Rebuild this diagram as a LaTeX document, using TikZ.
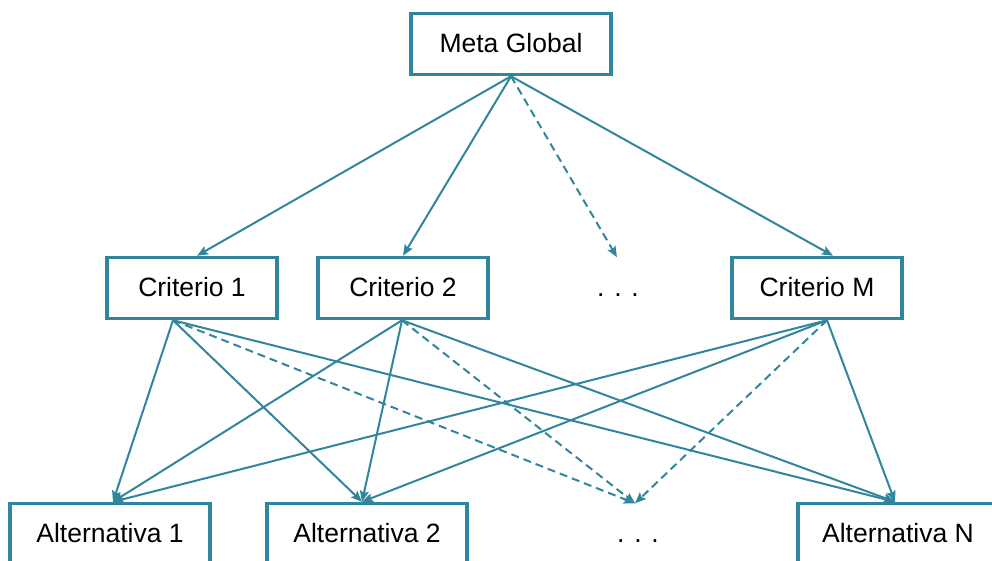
\documentclass[tikz,border=0pt]{standalone}
\usepackage{fontspec}
\setmainfont{Liberation Sans}
\usepackage{xcolor}
\usetikzlibrary{arrows.meta}

\definecolor{linkteal}{RGB}{49,133,156}

\tikzset{
  levelbox/.style={draw=linkteal, line width=3.5pt, fill=white,
    minimum height=61pt, text height=19pt, text depth=3pt,
    font=\fontsize{26.5}{31}\selectfont},
  dotsbox/.style={minimum height=61pt, text height=19pt, text depth=3pt,
    font=\fontsize{26.5}{31}\selectfont},
  link/.style={draw=linkteal, line width=2pt,
    -{Stealth[length=11pt, width=9pt, inset=2pt]}},
  guess/.style={link, dash pattern=on 8pt off 5pt},
}

\begin{document}
\begin{tikzpicture}[x=1pt, y=-1pt]
  \clip (0,0) rectangle (992,560);

  \node[levelbox, minimum width=200pt] (meta) at (511,44) {Meta Global};

  \node[levelbox, minimum width=170pt] (crit1) at (192,288) {Criterio 1};
  \node[levelbox, minimum width=170pt] (crit2) at (403,288) {Criterio 2};
  \node[dotsbox] (critdots) at (618,288) {. . .};
  \node[levelbox, minimum width=170pt] (critM) at (817,288) {Criterio M};

  \node[levelbox, minimum width=200pt] (alt1) at (110,534) {Alternativa 1};
  \node[levelbox, minimum width=200pt] (alt2) at (367,534) {Alternativa 2};
  \node[dotsbox] (altdots) at (638,534) {. . .};
  \node[levelbox, minimum width=200pt] (altN) at (898,534) {Alternativa N};

  % goal -> criteria
  \draw[link] (meta.south) -- ([xshift=5]crit1.north);
  \draw[link] (meta.south) -- (crit2.north);
  \draw[guess] (meta.south) -- ([xshift=-1]critdots.north);
  \draw[link] (meta.south) -- ([xshift=16]critM.north);

  % criteria -> alternatives
  \foreach \c/\s in {crit1/-19, crit2/-1, critM/10} {
    \draw[link] ([xshift=\s]\c.south) -- ([xshift=3]alt1.north);
    \draw[link] ([xshift=\s]\c.south) -- ([xshift=-5]alt2.north);
    \draw[guess] ([xshift=\s]\c.south) -- ([xshift=-3]altdots.north);
    \draw[link] ([xshift=\s]\c.south) -- ([xshift=-3]altN.north);
  }
\end{tikzpicture}
\end{document}
